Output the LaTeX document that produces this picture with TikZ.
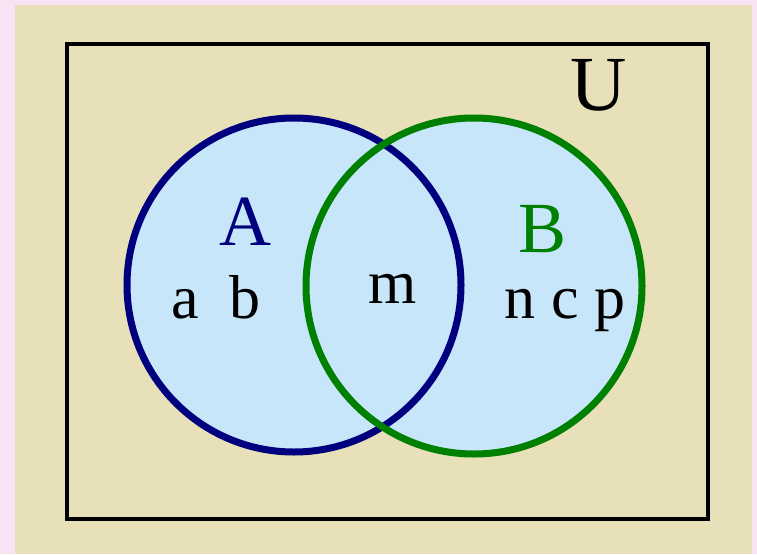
\documentclass[tikz,border=0pt]{standalone}
\usepackage{fontspec}
\setmainfont{Liberation Serif}
\usepackage{xcolor}
\usetikzlibrary{positioning}

\definecolor{pagebg}{HTML}{F6E4F4}
\definecolor{sand}{HTML}{E8E0B8}
\definecolor{setfill}{HTML}{C8E6FA}
\definecolor{setA}{HTML}{00007F}
\definecolor{setB}{HTML}{008000}

\begin{document}
\begin{tikzpicture}[
    x=1pt, y=-1pt,
    setname/.style={anchor=base, inner sep=0pt, font=\fontsize{72}{72}\selectfont},
    elem/.style={anchor=base, inner sep=0pt, font=\fontsize{62}{62}\selectfont},
    ring/.style={line width=7pt}
  ]
    \useasboundingbox (0,0) rectangle (757,554);
    \fill[pagebg] (0,0) rectangle (757,554);
    \fill[sand] (15,5) rectangle (752,554);
    \draw[line width=4pt] (67,44) rectangle (708,519);

    % the two sets
    \coordinate (ca) at (294,285);
    \coordinate (cb) at (474,286);
    \fill[setfill] (ca) circle[radius=167];
    \fill[setfill] (cb) circle[radius=168];
    \draw[ring, setA] (ca) circle[radius=167];
    \draw[ring, setB] (cb) circle[radius=168];

    \node[setname, font=\fontsize{78}{78}\selectfont] (univ) at (599,110) {U};
    \node[setname, setA] (nameA) at (245,245) {A};
    \node[setname, setB] (nameB) at (543,252) {B};

    \node[elem] (onlyA) at (216,318) {a~~b};
    \node[elem] (both) at (393,303) {m};
    \node[elem] (onlyB) at (565,318) {n c p};
  \end{tikzpicture}
\end{document}
